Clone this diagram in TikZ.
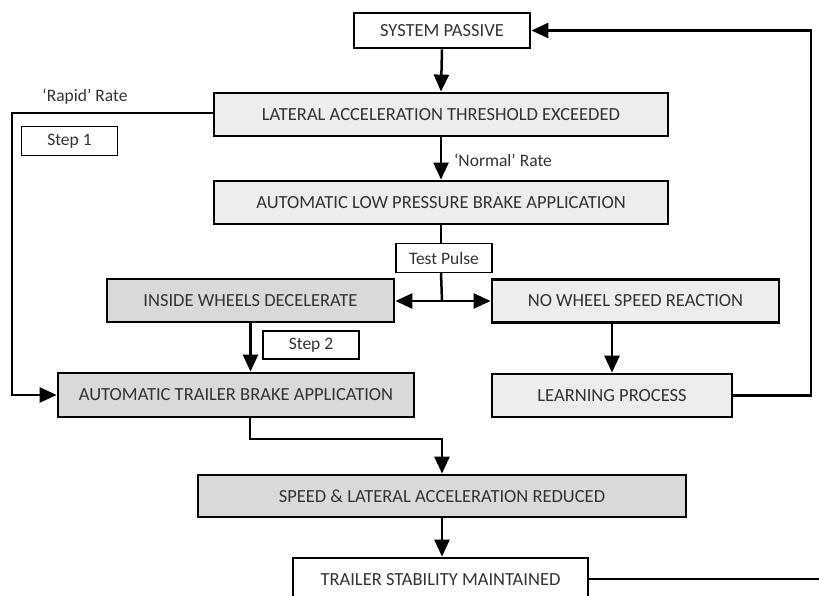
\documentclass[tikz,border=0pt]{standalone}
\usepackage{fontspec}
\setmainfont{Carlito}
\usetikzlibrary{arrows.meta}
\definecolor{txt}{HTML}{333333}
\definecolor{lightfill}{HTML}{EDEDED}
\definecolor{darkfill}{HTML}{D9D9D9}
\tikzset{
  capfont/.style={font=\fontsize{18.5}{20}\selectfont},
  mainbox/.style={draw=black, line width=2.8pt, minimum height=43pt, inner sep=0pt, text=txt, capfont},
  lightbox/.style={mainbox, fill=lightfill},
  darkbox/.style={mainbox, fill=darkfill},
  whitebox/.style={mainbox, fill=white},
  tagbox/.style={draw=black, line width=1.3pt, fill=white, inner sep=0pt, minimum width=96pt, minimum height=29pt, text=txt, font=\fontsize{17.5}{19}\selectfont},
  lbl/.style={text=txt, font=\fontsize{17.5}{19}\selectfont, inner sep=0pt},
  conn/.style={line width=2.5pt, -{Triangle[length=17pt,width=15pt]}},
  plain/.style={line width=2.5pt},
}
\begin{document}
\begin{tikzpicture}[x=1pt,y=-1pt]
\useasboundingbox (0,0) rectangle (819,596);
\clip (0,0) rectangle (819,596);
\node[whitebox, minimum width=176pt, minimum height=35pt] (sys) at (442,30.5) {SYSTEM PASSIVE};
\node[lightbox, minimum width=454pt] (lat) at (441,114.5) {LATERAL ACCELERATION THRESHOLD EXCEEDED};
\node[lightbox, minimum width=454pt] (low) at (441,202.5) {AUTOMATIC LOW PRESSURE BRAKE APPLICATION};
\node[tagbox] (step1) at (69.5,141) {Step 1};
\node[lbl] (rapid) at (85,97) {‘Rapid’ Rate};
\node[lbl] (normal) at (503,160) {‘Normal’ Rate};
\node[tagbox] (test) at (444,258) {Test Pulse};
\node[darkbox, minimum width=287pt] (inside) at (250.5,300.5) {INSIDE WHEELS DECELERATE};
\node[lightbox, minimum width=287pt] (nowheel) at (635.5,301) {NO WHEEL SPEED REACTION};
\node[tagbox, minimum height=28pt] (step2) at (311,345) {Step 2};
\node[darkbox, minimum width=356pt, minimum height=44pt] (trailer) at (236,395) {AUTOMATIC TRAILER BRAKE APPLICATION};
\node[lightbox, minimum width=240pt] (learn) at (612,395.5) {LEARNING PROCESS};
\node[darkbox, minimum width=488pt, minimum height=42pt] (speed) at (442,496) {SPEED \& LATERAL ACCELERATION REDUCED};
\node[whitebox, minimum width=295pt, minimum height=44pt] (stab) at (440.5,580) {TRAILER STABILITY MAINTAINED};
\coordinate (rt) at (811,30.5);
\coordinate (lf) at (12,113);
\coordinate (jn) at (442,301);
\coordinate (mid) at (250,439);
\coordinate (exit) at (840,579);
% connectors
\draw[conn] (sys.south) -- (lat.north);
\draw[conn] (lat.south) -- (low.north);
\draw[plain] (low.south) -- (low.south |- test.north);
\draw[plain] (low.south |- test.south) -- (jn);
\draw[conn] (jn) -- (jn -| inside.east);
\draw[conn] (jn) -- (jn -| nowheel.west);
\draw[conn] (inside.south) -- (inside.south |- trailer.north);
\draw[conn] (nowheel.south -| learn.north) -- (learn.north);
\draw[conn] (learn.east) -| (rt) -- (sys.east);
\draw[conn] (lat.west |- lf) -- (lf) |- (trailer.west);
\draw[conn] (trailer.south -| mid) -- (mid) -| (speed.north);
\draw[conn] (speed.south) -- (speed.south |- stab.north);
\draw[plain] (stab.east |- exit) -- (exit);
\end{tikzpicture}
\end{document}
